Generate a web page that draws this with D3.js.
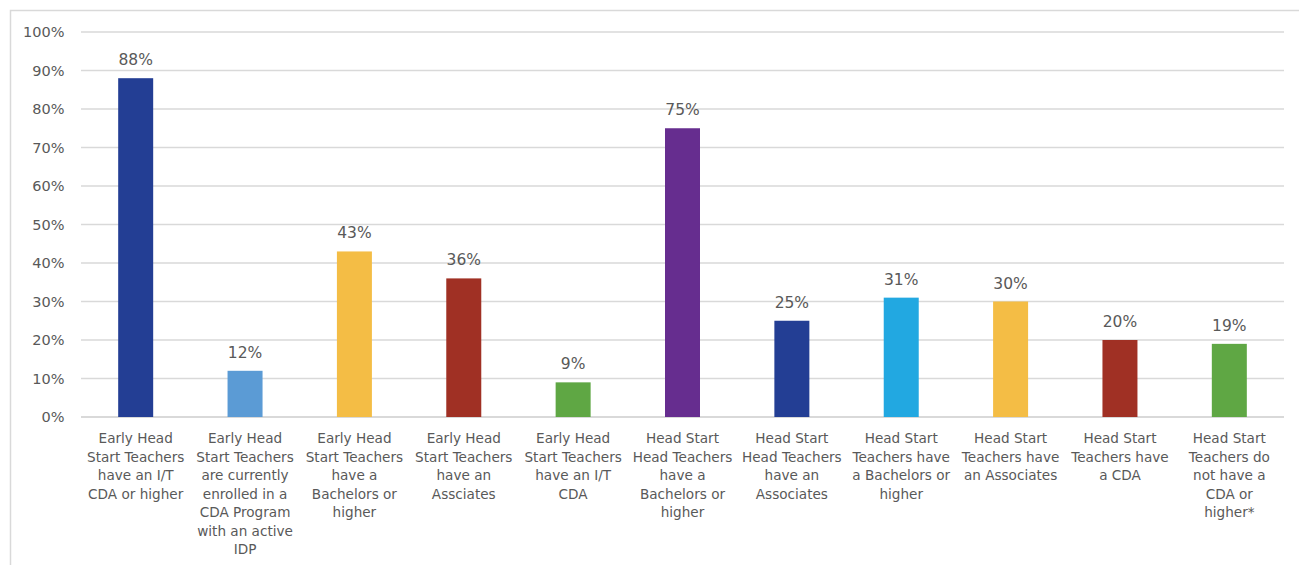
<!DOCTYPE html>
<html><head><meta charset="utf-8">
<script src="https://cdn.jsdelivr.net/npm/d3@7"></script>
<style>body{margin:0;background:#fff}svg{display:block}</style>
</head><body>
<svg id="c" width="1299" height="565"></svg>
<script>
const categories = [
  ["Early Head","Start Teachers","have an I/T","CDA or higher"],
  ["Early Head","Start Teachers","are currently","enrolled in a","CDA Program","with an active","IDP"],
  ["Early Head","Start Teachers","have a","Bachelors or","higher"],
  ["Early Head","Start Teachers","have an","Assciates"],
  ["Early Head","Start Teachers","have an I/T","CDA"],
  ["Head Start","Head Teachers","have a","Bachelors or","higher"],
  ["Head Start","Head Teachers","have an","Associates"],
  ["Head Start","Teachers have","a Bachelors or","higher"],
  ["Head Start","Teachers have","an Associates"],
  ["Head Start","Teachers have","a CDA"],
  ["Head Start","Teachers do","not have a","CDA or","higher*"]
];
const values = [88, 12, 43, 36, 9, 75, 25, 31, 30, 20, 19];
const colors = ["#233E94","#5B9BD5","#F4BD45","#A03024","#5FA744","#662D8F","#233E94","#22A8E1","#F4BD45","#A03024","#5FA744"];
const yTicks = [0,10,20,30,40,50,60,70,80,90,100];

const svg = d3.select("#c");
const font = "'DejaVu Sans', sans-serif";
const textColor = "#595959";
const m = {left:81, right:1284, top:32, bottom:417};

svg.append("rect").attr("x",10.5).attr("y",10.5).attr("width",1300).attr("height",600)
  .attr("fill","none").attr("stroke","#d9d9d9").attr("stroke-width",1.5);

const x = d3.scaleBand().domain(d3.range(values.length)).range([m.left,m.right]).paddingInner(0.68).paddingOuter(0.34);
const y = d3.scaleLinear().domain([0,100]).range([m.bottom,m.top]);

const g = svg.append("g");
g.selectAll("line.grid").data(yTicks).join("line")
  .attr("x1",m.left).attr("x2",m.right)
  .attr("y1",d=>y(d)).attr("y2",d=>y(d))
  .attr("stroke","#d9d9d9").attr("stroke-width",d=>d===0?2:1.5);

const yAxis = d3.axisLeft(y).tickValues(yTicks).tickFormat(d=>d+"%").tickSize(0).tickPadding(16.5);
const ya = svg.append("g").attr("transform",`translate(${m.left},0)`).call(yAxis);
ya.select(".domain").remove();
ya.selectAll("text").attr("font-family",font).attr("font-size",14.5).attr("fill",textColor);

g.selectAll("rect.bar").data(values).join("rect")
  .attr("x",(d,i)=>x(i)).attr("width",x.bandwidth())
  .attr("y",d=>y(d)).attr("height",d=>y(0)-y(d))
  .attr("fill",(d,i)=>colors[i]);

g.selectAll("text.val").data(values).join("text")
  .attr("x",(d,i)=>x(i)+x.bandwidth()/2).attr("y",d=>y(d)-13)
  .attr("text-anchor","middle").attr("font-family",font).attr("font-size",15.5).attr("fill",textColor)
  .text(d=>d+"%");

const lab = g.selectAll("text.cat").data(categories).join("text")
  .attr("text-anchor","middle").attr("font-family",font).attr("font-size",13.6).attr("fill",textColor)
  .attr("transform",(d,i)=>`translate(${x(i)+x.bandwidth()/2},${m.bottom+26})`);
lab.selectAll("tspan").data(d=>d).join("tspan")
  .attr("x",0).attr("y",(d,j)=>j*18.5).text(d=>d);
</script>
</body></html>
